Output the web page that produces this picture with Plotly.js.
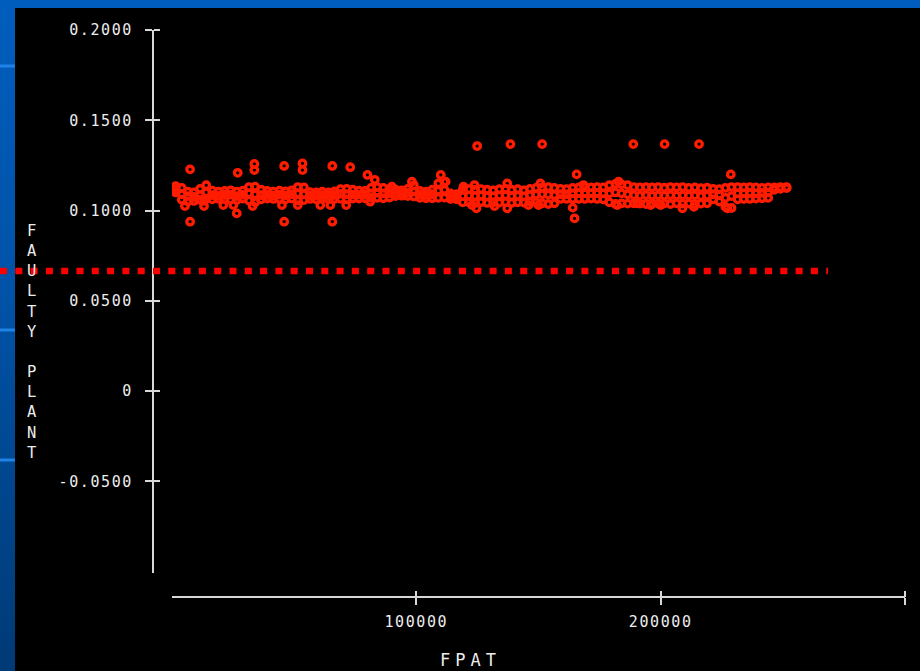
<!DOCTYPE html>
<html><head><meta charset="utf-8">
<script src="https://cdn.plot.ly/plotly-3.0.1.min.js"></script>
<style>
html,body{margin:0;padding:0;width:920px;height:671px;overflow:hidden;}
body{background:linear-gradient(180deg,#005dbd 0%,#0052a6 45%,#003a76 100%);}
#chart{width:920px;height:671px;}
.xtick text,.ytick text{letter-spacing:1.6px;}
.annotation-text{letter-spacing:5px;}
</style></head><body><div id="chart"></div><script>
const bandX = [1500,4000,6500,9000,11500,14000,16500,19000,21500,24000,26500,29000,31500,34000,36500,39000,41500,44000,46500,49000,51500,54000,56500,59000,61500,64000,66500,69000,71500,74000,76500,79000,81500,84000,86500,89000,91500,94000,96500,99000,101500,104000,106500,109000,111500,114000,116500,119000,121500,124000,126500,129000,131500,134000,136500,139000,141500,144000,146500,149000,151500,154000,156500,159000,161500,164000,166500,169000,171500,174000,176500,179000,181500,184000,186500,189000,191500,194000,196500,199000,201500,204000,206500,209000,211500,214000,216500,219000,221500,224000,226500,229000,231500,234000,236500,239000,241500,244000,246500,249000,251500];
const bandTop = [.1135,.1125,.1105,.1100,.1120,.1140,.1110,.1105,.1108,.1112,
.1105,.1110,.1130,.1132,.1115,.1108,.1105,.1110,.1106,.1112,
.1130,.1128,.1102,.1100,.1104,.1100,.1106,.1118,.1120,.1115,
.1110,.1108,.1125,.1130,.1125,.1118,.1115,.1112,.1120,.1140,
.1108,.1105,.1115,.1150,.1160,.1095,.1090,.1115,.1118,.1116,
.1119,.1115,.1112,.1118,.1120,.1115,.1118,.1112,.1120,.1125,
.1128,.1130,.1125,.1120,.1118,.1125,.1128,.1130,.1128,.1130,
.1128,.1140,.1147,.1145,.1140,.1130,.1128,.1130,.1128,.1130,
.1126,.1130,.1128,.1130,.1125,.1128,.1124,.1126,.1120,.1118,
.1125,.1130,.1130,.1128,.1130,.1128,.1125,.1128,.1128,.1130,.1130];
const bandMid = [.1118,.1090,.1080,.1075,.1085,.1100,.1085,.1082,.1086,.1088,
.1080,.1087,.1095,.1090,.1085,.1086,.1083,.1088,.1084,.1090,
.1095,.1090,.1083,.1082,.1085,.1082,.1086,.1092,.1090,.1088,
.1088,.1088,.1095,.1098,.1095,.1095,.1095,.1095,.1098,.1105,
.1088,.1086,.1090,.1110,.1115,.1080,.1076,.1080,.1082,.1080,
.1083,.1079,.1078,.1082,.1084,.1080,.1082,.1078,.1085,.1088,
.1090,.1088,.1085,.1090,.1090,.1095,.1097,.1095,.1096,.1097,
.1095,.1095,.1100,.1095,.1090,.1085,.1083,.1085,.1082,.1084,
.1082,.1085,.1083,.1084,.1082,.1084,.1080,.1082,.1090,.1088,
.1070,.1080,.1095,.1095,.1097,.1095,.1098,.1100,.1120,.1125,.1127];
const bandLow = [.1100,.1060,.1050,.1053,.1060,.1064,.1062,.1065,.1064,.1060,
.1058,.1066,.1055,.1045,.1062,.1066,.1064,.1064,.1062,.1066,
.1055,.1058,.1064,.1062,.1066,.1064,.1064,.1065,.1062,.1066,
.1066,.1068,.1070,.1070,.1068,.1072,.1080,.1082,.1080,.1078,
.1070,.1068,.1068,.1070,.1072,.1064,.1062,.1045,.1045,.1042,
.1046,.1042,.1045,.1044,.1046,.1042,.1045,.1044,.1048,.1046,
.1040,.1036,.1040,.1064,.1064,.1064,.1064,.1064,.1066,.1064,
.1062,.1045,.1036,.1040,.1038,.1040,.1038,.1036,.1040,.1038,
.1040,.1036,.1040,.1038,.1040,.1036,.1038,.1040,.1062,.1050,
.1020,.1014,.1062,.1064,.1064,.1066,.1068,.1070,.1115,.1120,.1124];
const outX = [7400,7400,5300,13100,13100,21000,25100,26900,26500,33000,33700,33700,45000,45900,45900,51500,53400,53400,60700,64800,65600,65600,71300,72950,80000,83000,81100,90000,98200,110000,112000,119300,122800,123800,124600,124900,132000,137200,137200,138500,145900,150000,150800,151500,164000,164750,165600,168400,182200,182800,188800,190400,195900,200000,201600,208900,213600,215700,227300,228700];
const outY = [.1228,.0938,.1025,.1053,.1025,.1030,.1030,.1209,.0984,.1025,.1258,.1224,.1030,.1247,.0938,.1030,.1261,.1224,.1030,.1030,.1247,.0938,.1030,.1240,.1197,.1170,.1049,.1132,.1160,.1197,.1160,.1132,.1030,.1141,.1012,.1357,.1025,.1012,.1150,.1368,.1030,.1030,.1150,.1368,.1016,.0957,.1200,.1141,.1030,.1160,.1368,.1040,.1030,.1030,.1368,.1012,.1020,.1368,.1012,.1200];
const thresholdY = 0.0665;
const yTickVals = [0.2,0.15,0.1,0.05,0,-0.05];
const yTickText = ['0.2000','0.1500','0.1000','0.0500','0','-0.0500'];
const xTickVals = [100000,200000,300000];
const xTickText = ['100000','200000',''];
const xTitle = 'FPAT';
const yTitle = 'FAULTY PLANT';

const W=920,H=671,L=153,R=15,T=30,B=74;
const pw=W-L-R, ph=H-T-B;
const px = v => (v-L)/pw;
const py = v => (H-B-v)/ph;

const allX = bandX.concat(bandX, bandX, outX);
const allY = bandTop.concat(bandMid, bandLow, outY);

const red = '#ff1c00';
const axCol = '#d8d8d8';
const txtCol = '#ececec';
const fnt = 'DejaVu Sans Mono, monospace';

const xdom = [px(172),1], ydom=[py(573),1];
const xr=[0,300000], yr=[-0.1008,0.2];

const traces = [
 {type:'scatter',mode:'markers',x:allX,y:allY,
  marker:{symbol:'circle-open',size:6.5,color:red,line:{width:3.3,color:red}},
  hoverinfo:'x+y',showlegend:false},
 {type:'scatter',mode:'markers',x:[xr[0]],y:[yr[0]],xaxis:'x2',yaxis:'y2',
  marker:{opacity:0,size:1},showlegend:false,hoverinfo:'skip'}
];

const baseX = {domain:xdom,range:xr,anchor:'free',position:0,showgrid:false,zeroline:false,
  tickmode:'array',tickvals:xTickVals,tickwidth:2,ticklen:7,tickcolor:axCol,fixedrange:true};
const baseY = {domain:ydom,range:yr,anchor:'free',position:0,showgrid:false,zeroline:false,
  tickmode:'array',tickvals:yTickVals,tickwidth:2,ticklen:7,tickcolor:axCol,fixedrange:true};

const layout = {
 width:W,height:H,margin:{l:L,r:R,t:T,b:B,pad:0},
 paper_bgcolor:'rgba(0,0,0,0)',plot_bgcolor:'rgba(0,0,0,0)',
 showlegend:false,
 xaxis:Object.assign({},baseX,{ticks:'outside',ticktext:xTickText,showline:true,linecolor:axCol,linewidth:2,
   tickfont:{family:fnt,size:15,color:txtCol},ticklabelstandoff:4}),
 yaxis:Object.assign({},baseY,{ticks:'outside',ticktext:yTickText,showline:true,linecolor:axCol,linewidth:2,
   tickfont:{family:fnt,size:15,color:txtCol},ticklabelstandoff:9}),
 xaxis2:Object.assign({},baseX,{side:'top',ticks:'outside',ticklen:6,showticklabels:false,showline:false,overlaying:'x'}),
 yaxis2:Object.assign({},baseY,{side:'right',ticks:'outside',ticklen:6,showticklabels:false,showline:false,overlaying:'y'}),
 shapes:[
  {type:'rect',xref:'paper',yref:'paper',x0:px(15),x1:px(920),y0:py(671),y1:py(8),
   fillcolor:'#000',line:{width:0},layer:'below'},
  {type:'line',xref:'paper',yref:'paper',x0:px(0),x1:px(15),y0:py(66),y1:py(66),line:{color:'#1e82e6',width:3},layer:'below'},
  {type:'line',xref:'paper',yref:'paper',x0:px(0),x1:px(15),y0:py(330),y1:py(330),line:{color:'#1e82e6',width:3},layer:'below'},
  {type:'line',xref:'paper',yref:'paper',x0:px(0),x1:px(15),y0:py(460),y1:py(460),line:{color:'#1e82e6',width:3},layer:'below'},
  {type:'line',xref:'paper',yref:'y',x0:px(0),x1:px(828),y0:thresholdY,y1:thresholdY,
   line:{color:'#ff0000',width:6.5,dash:'7px,8.3px'},layer:'above'}
 ],
 annotations:[
  {xref:'paper',yref:'paper',x:px(470),y:py(660),text:xTitle,showarrow:false,xanchor:'center',yanchor:'middle',
   font:{family:fnt,size:17,color:txtCol}},
  {xref:'paper',yref:'paper',x:px(33.5),y:py(342),text:yTitle.split('').map(c=>c===' '?'':c).join('<br>'),
   showarrow:false,xanchor:'center',yanchor:'middle',font:{family:fnt,size:15.5,color:txtCol}}
 ]
};
Plotly.newPlot('chart',traces,layout,{displayModeBar:false,staticPlot:true});
</script></body></html>
